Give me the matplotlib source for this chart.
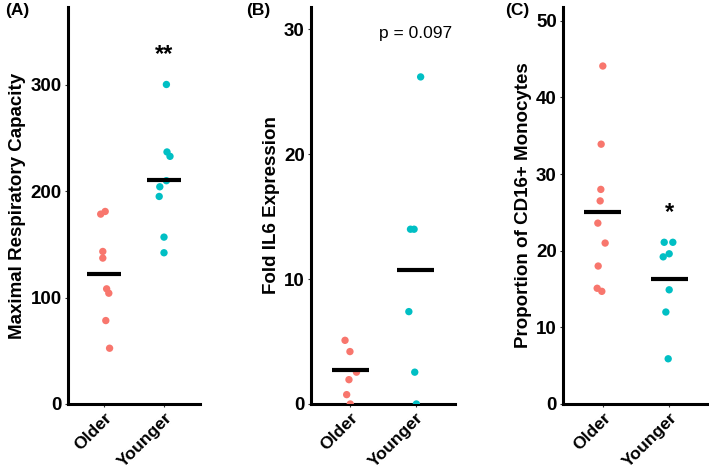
import matplotlib
matplotlib.use("Agg")
import matplotlib.pyplot as plt

plt.rcParams['font.family'] = ['Liberation Sans', 'DejaVu Sans']

groups = ["Older", "Younger"]
c_old = "#F8766D"
c_young = "#00BFC4"

# panel A: maximal respiratory capacity
a_old_x = [1.02, 0.945, 0.98, 0.98, 1.044, 1.08, 1.03, 1.093]
a_old_y = [180.9, 178.4, 143.3, 137.1, 108.2, 104.1, 78.4, 52.4]
a_young_x = [2.04, 2.05, 2.10, 2.04, 1.93, 1.92, 2.0, 2.0]
a_young_y = [300.2, 236.8, 232.7, 209.8, 204.1, 195.0, 156.8, 142.1]
a_means = [122.5, 210.0]

# panel B: fold IL6 expression
b_old_x = [0.92, 0.995, 1.095, 0.98, 0.945, 1.0]
b_old_y = [5.1, 4.2, 2.55, 1.95, 0.75, 0.0]
b_young_x = [2.075, 1.92, 1.975, 1.895, 1.985, 2.01]
b_young_y = [26.2, 14.0, 14.0, 7.4, 2.55, 0.0]
b_means = [2.75, 10.7]

# panel C: proportion of CD16+ monocytes
c_old_x = [1.0, 0.975, 0.97, 0.96, 0.925, 1.035, 0.93, 0.915, 0.985]
c_old_y = [44.1, 33.9, 28.0, 26.5, 23.6, 21.0, 18.0, 15.1, 14.7]
c_young_x = [1.925, 2.055, 1.91, 2.0, 2.0, 1.95, 1.985]
c_young_y = [21.1, 21.1, 19.2, 19.6, 14.9, 12.0, 5.9]
c_means = [25.0, 16.3]

panels = [
    dict(rect=[68, 200], top=373, ticks=[0, 100, 200, 300],
         ylabel="Maximal Respiratory Capacity", tag="(A)", tagx=17,
         ox=a_old_x, oy=a_old_y, yx=a_young_x, yy=a_young_y, means=a_means,
         note="**", note_y=328, note_bold=True),
    dict(rect=[311, 455], top=31.8, ticks=[0, 10, 20, 30],
         ylabel="Fold IL6 Expression", tag="(B)", tagx=258,
         ox=b_old_x, oy=b_old_y, yx=b_young_x, yy=b_young_y, means=b_means,
         note="p = 0.097", note_y=29.7, note_bold=False),
    dict(rect=[563, 709], top=51.8, ticks=[0, 10, 20, 30, 40, 50],
         ylabel="Proportion of CD16+ Monocytes", tag="(C)", tagx=517,
         ox=c_old_x, oy=c_old_y, yx=c_young_x, yy=c_young_y, means=c_means,
         note="*", note_y=25.0, note_bold=True),
]

W, H = 709, 472
fig = plt.figure(figsize=(W / 100, H / 100), dpi=100)

for p in panels:
    l, r = p["rect"]
    ax = fig.add_axes([l / W, (H - 404) / H, (r - l) / W, (404 - 7) / H])
    ax.scatter(p["ox"], p["oy"], s=28, color=c_old, edgecolors="none", zorder=3)
    ax.scatter(p["yx"], p["yy"], s=28, color=c_young, edgecolors="none", zorder=3)
    for i, m in enumerate(p["means"]):
        ax.plot([i + 1 - 0.28, i + 1 + 0.28], [m, m], color="black", lw=3.0,
                solid_capstyle="butt", zorder=4)
    ax.set_xlim(0.4, 2.6)
    ax.set_ylim(0, p["top"])
    ax.set_xticks([1, 2])
    ax.set_xticklabels(groups, rotation=45, ha="right", rotation_mode="anchor",
                       fontsize=12.6, fontweight="bold")
    ax.set_yticks(p["ticks"])
    ax.set_yticklabels([str(t) for t in p["ticks"]], fontsize=13.5, fontweight="bold")
    ax.tick_params(axis="both", length=2.5, width=0.8, color="#333333", pad=2)
    ax.tick_params(axis="x", pad=2)
    for s in ["top", "right"]:
        ax.spines[s].set_visible(False)
    for s in ["left", "bottom"]:
        ax.spines[s].set_linewidth(2.2)
        ax.spines[s].set_capstyle("projecting")
    ax.set_ylabel(p["ylabel"], fontsize=13.5, fontweight="bold", labelpad=3)
    ax.text(2, p["note_y"], p["note"], ha="center", va="center",
            fontsize=17 if p["note_bold"] else 12.5,
            fontweight="bold" if p["note_bold"] else "normal")
    ax.patch.set_alpha(0)
    fig.text(p["tagx"] / W, 1 - 11 / H, p["tag"], ha="center", va="center",
             fontsize=12.5, fontweight="bold")

fig.savefig("out.png", dpi=100)
